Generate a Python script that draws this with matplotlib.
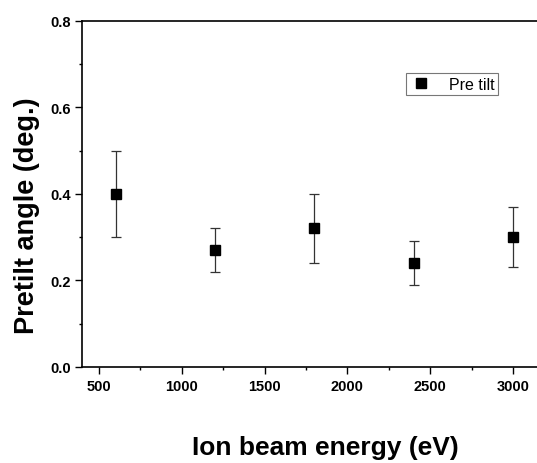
import matplotlib
matplotlib.use("Agg")
import matplotlib.pyplot as plt
from matplotlib.ticker import MultipleLocator
from matplotlib.lines import Line2D

plt.rcParams['font.family'] = ['Liberation Sans', 'DejaVu Sans']

energy = [600, 1200, 1800, 2400, 3000]
pretilt = [0.40, 0.27, 0.32, 0.24, 0.30]
err_low = [0.10, 0.05, 0.08, 0.05, 0.07]
err_high = [0.10, 0.05, 0.08, 0.05, 0.07]

fig = plt.figure(figsize=(5.37, 4.64), dpi=100)
ax = fig.add_axes([0.152, 0.207, 0.848, 0.746])

ax.errorbar(energy, pretilt, yerr=[err_low, err_high], fmt='s', color='black',
            ecolor='#333333', elinewidth=0.9, capsize=3.5, capthick=0.9,
            markersize=7)

ax.set_xlim(395, 3145)
ax.set_ylim(0, 0.8)
ax.xaxis.set_major_locator(MultipleLocator(500))
ax.xaxis.set_minor_locator(MultipleLocator(250))
ax.yaxis.set_major_locator(MultipleLocator(0.2))
ax.yaxis.set_minor_locator(MultipleLocator(0.1))
ax.yaxis.set_major_formatter(plt.FuncFormatter(lambda v, p: f"{v:.1f}"))

ax.tick_params(which='both', direction='out', width=1)
ax.tick_params(which='major', length=5, labelsize=10.5, pad=3)
ax.tick_params(axis='x', which='major', pad=4)
ax.tick_params(which='minor', length=2.5)
for lbl in ax.get_xticklabels() + ax.get_yticklabels():
    lbl.set_fontweight('bold')

for s in ['left', 'bottom', 'top']:
    ax.spines[s].set_linewidth(1.2)
ax.spines['right'].set_visible(False)

ax.set_ylabel('Pretilt angle (deg.)', fontsize=19.5, fontweight='bold')
ax.yaxis.set_label_coords(-0.092, 0.44)
ax.set_xlabel('Ion beam energy (eV)', fontsize=19, fontweight='bold')
ax.xaxis.set_label_coords(0.535, -0.197)
ax.xaxis.label.set_verticalalignment('top')

handle = Line2D([], [], marker='s', color='black', linestyle='none', markersize=7)
leg = ax.legend([handle], ['Pre tilt'], loc='upper left', bbox_to_anchor=(0.712, 0.848),
                frameon=True, fancybox=False, edgecolor='#555555', fontsize=11.5,
                handlelength=1.5, handletextpad=1.0, borderpad=0.2,
                borderaxespad=0)
leg.get_frame().set_linewidth(0.8)

fig.savefig('out.png', dpi=100)
